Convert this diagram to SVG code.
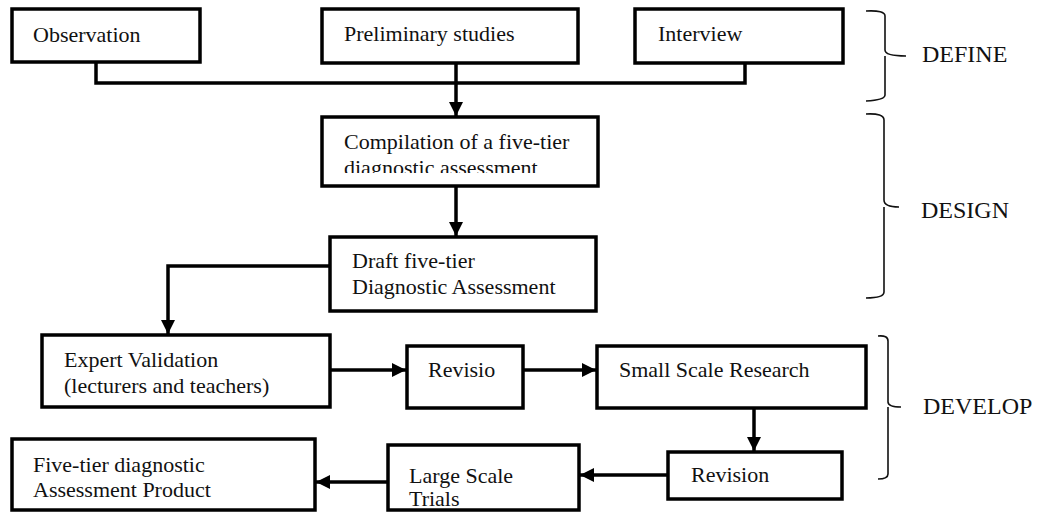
<svg xmlns="http://www.w3.org/2000/svg" width="1044" height="512" viewBox="0 0 1044 512">
<style>
.box{fill:#fff;stroke:#000;stroke-width:3.5}
.t{font-family:'Liberation Serif','DejaVu Serif','Times New Roman',serif;font-size:22px;fill:#111}
.ph{font-family:'Liberation Serif','DejaVu Serif','Times New Roman',serif;font-size:24px;fill:#111}
.c{fill:none;stroke:#000;stroke-width:3.5}
.br{fill:none;stroke:#111;stroke-width:1.6}
</style>
<defs>
<marker id="ah" markerWidth="14" markerHeight="14" viewBox="0 0 14 14" refX="14" refY="7" orient="auto" markerUnits="userSpaceOnUse">
<path d="M0,0 L14,7 L0,14 Z" fill="#000"/>
</marker>
<clipPath id="clipComp"><rect x="322" y="117" width="276" height="56"/></clipPath>
</defs>
<rect width="1044" height="512" fill="#fff"/>

<g id="connectors">
<polyline class="c" points="96,62 96,83 745,83 745,62"/>
<line class="c" x1="456" y1="63" x2="456" y2="116" marker-end="url(#ah)"/>
<line class="c" x1="456" y1="186" x2="456" y2="236" marker-end="url(#ah)"/>
<polyline class="c" points="330,266 168,266 168,334" marker-end="url(#ah)"/>
<line class="c" x1="330" y1="370" x2="406" y2="370" marker-end="url(#ah)"/>
<line class="c" x1="523" y1="370" x2="596" y2="370" marker-end="url(#ah)"/>
<line class="c" x1="754" y1="409" x2="754" y2="451" marker-end="url(#ah)"/>
<line class="c" x1="668" y1="475" x2="580" y2="475" marker-end="url(#ah)"/>
<line class="c" x1="388" y1="482" x2="316" y2="482" marker-end="url(#ah)"/>
</g>

<g id="observation"><rect class="box" x="12" y="9" width="188" height="53"/><text class="t" x="33" y="42">Observation</text></g>
<g id="preliminary"><rect class="box" x="322" y="9" width="256" height="54"/><text class="t" x="344" y="41">Preliminary studies</text></g>
<g id="interview"><rect class="box" x="635" y="9" width="208" height="54"/><text class="t" x="658" y="41">Interview</text></g>
<g id="compilation"><rect class="box" x="322" y="117" width="276" height="69"/>
<g clip-path="url(#clipComp)"><text class="t" x="344" y="149">Compilation of a five-tier</text><text class="t" x="344" y="175">diagnostic assessment</text></g></g>
<g id="draft"><rect class="box" x="330" y="237" width="266" height="74"/><text class="t" x="352" y="268">Draft five-tier</text><text class="t" x="352" y="294">Diagnostic Assessment</text></g>
<g id="expert"><rect class="box" x="42" y="335" width="288" height="72"/><text class="t" x="64" y="367">Expert Validation</text><text class="t" x="64" y="393">(lecturers and teachers)</text></g>
<g id="revisio"><rect class="box" x="407" y="346" width="116" height="62"/><text class="t" x="428" y="377">Revisio</text></g>
<g id="smallscale"><rect class="box" x="597" y="346" width="269" height="62"/><text class="t" x="619" y="377">Small Scale Research</text></g>
<g id="revision"><rect class="box" x="668" y="452" width="174" height="47"/><text class="t" x="691" y="482">Revision</text></g>
<g id="largescale"><rect class="box" x="388" y="445" width="191" height="65"/><text class="t" x="409" y="483">Large Scale</text><text class="t" x="409" y="506">Trials</text></g>
<g id="product"><rect class="box" x="12" y="439" width="303" height="71"/><text class="t" x="33" y="472">Five-tier diagnostic</text><text class="t" x="33" y="497">Assessment Product</text></g>

<g id="define">
<path class="br" d="M866,11 Q885,10 885,16 L885,50 Q885,56 906,56 M885,56 L885,95 Q885,100 866,101"/>
<text class="ph" x="922" y="62">DEFINE</text>
</g>
<g id="design">
<path class="br" d="M866,114 Q884,113 884,120 L884,200 Q884,207 899,207 M884,207 L884,292 Q884,298 866,298"/>
<text class="ph" x="921" y="218">DESIGN</text>
</g>
<g id="develop">
<path class="br" d="M878,336 Q888,335 888,341 L888,402 Q888,407 901,407 M888,407 L888,474 Q888,479 878,479"/>
<text class="ph" x="923" y="414">DEVELOP</text>
</g>
</svg>
